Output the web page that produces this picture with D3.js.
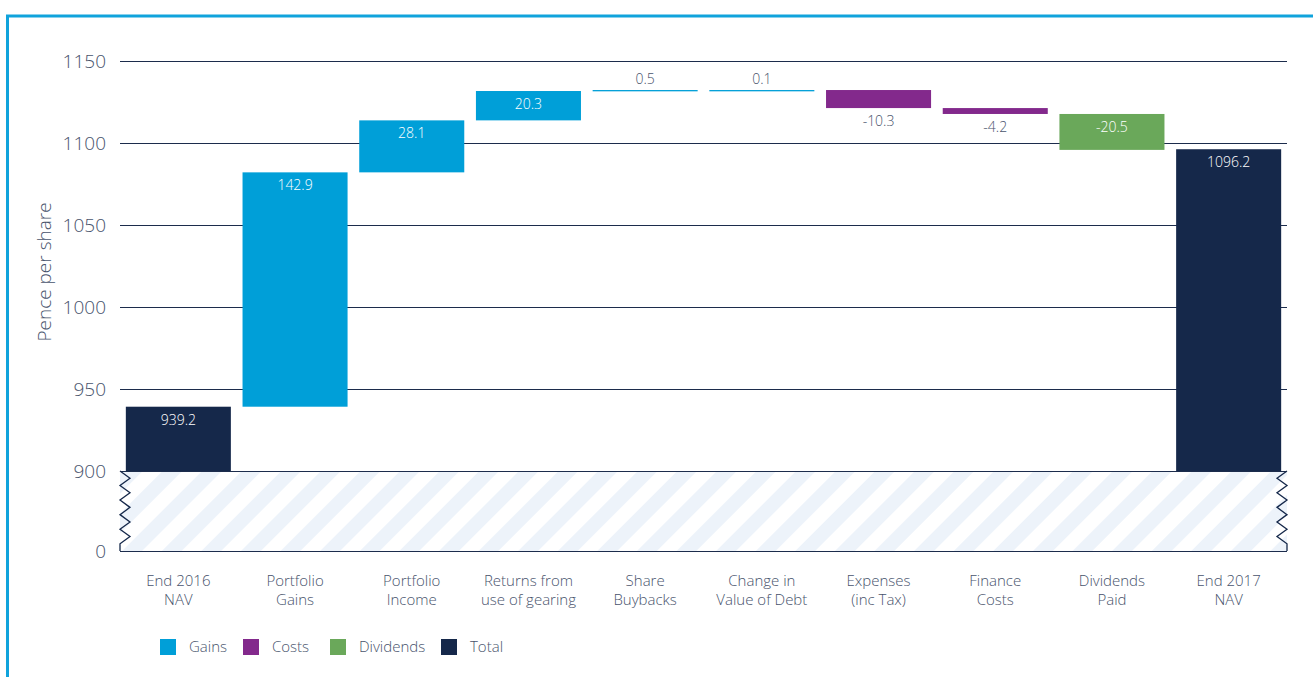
<!DOCTYPE html>
<html>
<head>
<meta charset="utf-8">
<script src="https://cdn.jsdelivr.net/npm/d3@7"></script>
<style>
  body { margin: 0; background: #fff; }
  text { font-family: "Open Sans", "Noto Sans", sans-serif; font-weight: 300; fill: #48536c; }
</style>
</head>
<body>
<div id="chart"></div>
<script>
// les données
var categories = ["End 2016\nNAV", "Portfolio\nGains", "Portfolio\nIncome", "Returns from\nuse of gearing",
                  "Share\nBuybacks", "Change in\nValue of Debt", "Expenses\n(inc Tax)", "Finance\nCosts",
                  "Dividends\nPaid", "End 2017\nNAV"];
var values = [939.2, 142.9, 28.1, 20.3, 0.5, 0.1, -10.3, -4.2, -20.5, 1096.2];
// niveau cumulé tel que dessiné dans l'image (fin de chaque marche)
var runningTotals = [939.2, 1082.1, 1113.8, 1131.7, 1132.3, 1132.3, 1121.3, 1117.7, 1095.8, 1096.2];
var kinds = ["Total", "Gains", "Gains", "Gains", "Gains", "Gains", "Costs", "Costs", "Dividends", "Total"];
var yTicks = [0, 900, 950, 1000, 1050, 1100, 1150];
var legendNames = ["Gains", "Costs", "Dividends", "Total"];
var colors = { Gains: "#009fd8", Costs: "#83298c", Dividends: "#6aa85a", Total: "#15284a" };

var width = 1313, height = 677;
var svg = d3.select("#chart").append("svg")
    .attr("width", width)
    .attr("height", height);

// cadre bleu
svg.append("line").attr("x1", 6).attr("x2", width).attr("y1", 16).attr("y2", 16)
    .attr("stroke", "#10a3dc").attr("stroke-width", 3);
svg.append("line").attr("x1", 7.5).attr("x2", 7.5).attr("y1", 15).attr("y2", height)
    .attr("stroke", "#10a3dc").attr("stroke-width", 3);

// échelles (axe coupé entre 0 et 900)
var x = d3.scaleBand().domain(d3.range(categories.length)).range([120, 1287]).paddingInner(0.1).paddingOuter(0.05);
var y = d3.scaleLinear().domain([0, 900, 1150]).range([551, 471, 61]);

// calcul des marches
var bars = values.map(function(v, i) {
  var end = runningTotals[i];
  var start = kinds[i] === "Total" ? 900 : runningTotals[i - 1];
  return { lo: Math.min(start, end), hi: Math.max(start, end), v: v, i: i, kind: kinds[i] };
});

// zone hachurée
var defs = svg.append("defs");
var pat = defs.append("pattern").attr("id", "hatch").attr("patternUnits", "userSpaceOnUse")
    .attr("width", 28).attr("height", 28).attr("patternTransform", "rotate(45)");
pat.append("rect").attr("width", 28).attr("height", 28).attr("fill", "#fff");
pat.append("rect").attr("width", 14).attr("height", 28).attr("fill", "#edf3fa");

svg.append("rect")
    .attr("x", 120).attr("y", y(900))
    .attr("width", 1167).attr("height", y(0) - y(900))
    .attr("fill", "url(#hatch)");

// zigzags
function zig(x0, dir) {
  var pts = [];
  var n = 11;
  for (var k = 0; k <= n; k++) {
    pts.push([x0 + (k % 2 === 0 ? 0 : dir * 10), y(900) + (y(0) - y(900)) * k / n]);
  }
  pts[n][0] = x0;
  return pts;
}
svg.append("path").attr("d", d3.line()(zig(120, 1))).attr("fill", "none").attr("stroke", "#15284a").attr("stroke-width", 1.3);
svg.append("path").attr("d", d3.line()(zig(1287, -1))).attr("fill", "none").attr("stroke", "#15284a").attr("stroke-width", 1.3);

// grille
svg.append("g").selectAll("line").data(yTicks).enter().append("line")
    .attr("x1", 120).attr("x2", 1287)
    .attr("y1", function(d) { return Math.round(y(d)) + 0.5; })
    .attr("y2", function(d) { return Math.round(y(d)) + 0.5; })
    .attr("stroke", "#1c2c4c").attr("stroke-width", 1.2);

svg.append("g").selectAll("text").data(yTicks).enter().append("text")
    .attr("x", 106).attr("y", function(d) { return y(d); })
    .attr("dy", "0.35em").attr("text-anchor", "end")
    .style("font-size", "19px")
    .text(function(d) { return d; });

svg.append("text")
    .attr("transform", "translate(51,272) rotate(-90)")
    .attr("text-anchor", "middle")
    .style("font-size", "19px")
    .text("Pence per share");

// barres
svg.append("g").selectAll("rect").data(bars).enter().append("rect")
    .attr("x", function(d) { return x(d.i); })
    .attr("width", x.bandwidth())
    .attr("y", function(d) { return y(d.hi); })
    .attr("height", function(d) { return Math.max(1.3, y(d.lo) - y(d.hi)); })
    .attr("fill", function(d) { return colors[d.kind]; });

// étiquettes des valeurs
svg.append("g").selectAll("text").data(bars).enter().append("text")
    .attr("x", function(d) { return x(d.i) + x.bandwidth() / 2; })
    .attr("y", function(d) {
      var h = y(d.lo) - y(d.hi);
      if (d.kind === "Costs") return y(d.lo) + 18;
      if (h < 20) return y(d.hi) - 6;
      return y(d.hi) + 18;
    })
    .attr("text-anchor", "middle")
    .style("font-size", "14px")
    .style("fill", function(d) {
      var h = y(d.lo) - y(d.hi);
      return (d.kind === "Costs" || h < 20) ? "#48536c" : "#fff";
    })
    .text(function(d) { return d.v.toFixed(1); });

// catégories
var cat = svg.append("g").selectAll("text").data(categories).enter().append("text")
    .attr("x", function(d, i) { return x(i) + x.bandwidth() / 2; })
    .attr("y", 586)
    .attr("text-anchor", "middle")
    .style("font-size", "15px");
cat.selectAll("tspan").data(function(d) { return d.split("\n"); }).enter().append("tspan")
    .attr("x", function() { return d3.select(this.parentNode).attr("x"); })
    .attr("dy", function(d, j) { return j === 0 ? 0 : 19; })
    .text(function(d) { return d; });

// légende
var legendX = [160, 243, 330, 441];
var lg = svg.append("g").selectAll("g").data(legendNames).enter().append("g")
    .attr("transform", function(d, i) { return "translate(" + legendX[i] + ",639)"; });
lg.append("rect").attr("width", 16).attr("height", 16).attr("fill", function(d) { return colors[d]; });
lg.append("text").attr("x", 29).attr("y", 8).attr("dy", "0.35em")
    .style("font-size", "15px").text(function(d) { return d; });
</script>
</body>
</html>
